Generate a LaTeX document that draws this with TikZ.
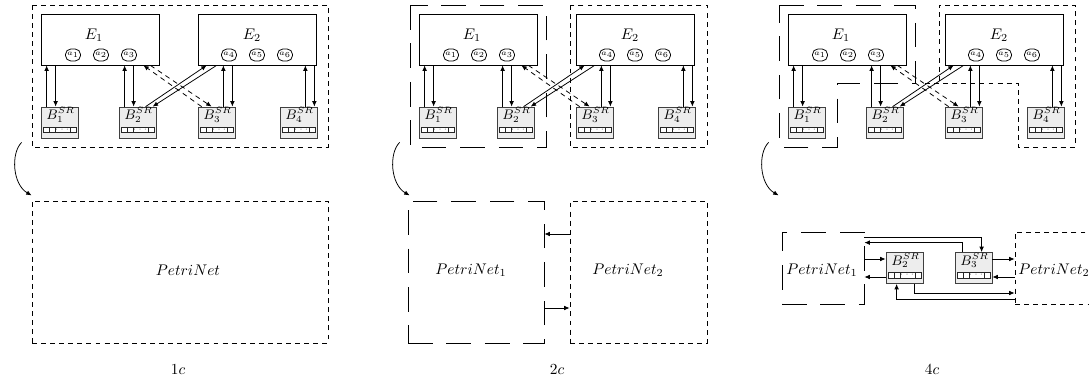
\documentclass[tikz,border=0pt]{standalone}
\usepackage{amsmath}
\usetikzlibrary{positioning,arrows.meta,calc}

\def\pxu{0.65pt}

\tikzset{
  entity/.style={draw, minimum width=118*\pxu, minimum height=51*\pxu, inner sep=0pt},
  action/.style={draw, rounded corners=3.5pt, minimum width=15*\pxu, minimum height=12*\pxu, inner sep=0pt, font=\tiny},
  srbox/.style={draw=black!75, fill=black!7, minimum width=37*\pxu, minimum height=31*\pxu, inner sep=0pt},
  qcell/.style={draw=black!85, fill=white, line width=0.4pt},
  qdots/.style={font=\tiny, inner sep=0pt, text height=1.5pt, text depth=0pt},
  link/.style={-{Latex[length=3.5pt,width=3pt]}},
  shortdash/.style={draw, dash pattern=on 3.2pt off 2.7pt},
  longdash/.style={draw, dash pattern=on 16pt off 9pt},
  netbox/.style={minimum width=#1*\pxu, minimum height=142*\pxu, inner sep=0pt},
}

% buffer with its queue: name, x, y, index
\newcommand{\srbuffer}[4]{%
  \node[srbox] (#1) at (#2,#3) {};
  \node[font=\small, inner sep=0pt] (#1-lbl) at ({#2+1},{#3-7.5}) {$B_{#4}^{SR}$};
  \foreach \qa/\qb in {-16/-10,-10/-4,-4/11,11/17}
    \draw[qcell] ({#2+\qa},{#3+4.5}) rectangle ({#2+\qb},{#3+10});
  \node[qdots] at ({#2+3.5},{#3+7.8}) {$\cdots$};
}

\begin{document}
\begin{tikzpicture}[x=\pxu, y=-\pxu, line width=0.5pt]
\useasboundingbox (0,0) rectangle (1089,383);
\clip (0,0) rectangle (1089,383);

% the three system views
\foreach \o/\p in {0/a, 378/b, 747/c}{
  \node[entity] (e1\p) at ({\o+100},39.5) {};
  \node[entity] (e2\p) at ({\o+257},39.5) {};
  \node (e1\p-lbl) at ({\o+94},35) {$E_1$};
  \node (e2\p-lbl) at ({\o+252},35) {$E_2$};
  \foreach \i/\ax in {1/73,2/101,3/129,4/229,5/257,6/285}
    \node[action] (a\i\p) at ({\o+\ax},55) {$a_\i$};
  \foreach \i/\bx in {1/59.5,2/137.5,3/216.5,4/298.5}{
    \srbuffer{b\i\p}{\o+\bx}{122.5}{\i}
  }
  % buffer <-> entity
  \foreach \b/\e in {b1/e1,b2/e1}{
    \draw[link] ($(\b\p.north west)+(6,0)$) -- ($(\b\p.north west |- \e\p.south)+(6,0)$);
    \draw[link] ($(\b\p.north west |- \e\p.south)+(15,0)$) -- ($(\b\p.north west)+(15,0)$);
  }
  \foreach \b/\e in {b3/e2,b4/e2}{
    \draw[link] ($(\b\p.north east)+(-12,0)$) -- ($(\b\p.north east |- \e\p.south)+(-12,0)$);
    \draw[link] ($(\b\p.north east |- \e\p.south)+(-3,0)$) -- ($(\b\p.north east)+(-3,0)$);
  }
  \draw[link] ($(b2\p.north west)+(27,0)$) -- ($(e2\p.south west)+(9,0)$);
  \draw[link] ($(e2\p.south west)+(19,0)$) -- ($(b2\p.north west)+(34,0)$);
  \draw[link, shortdash] ($(b3\p.north west)+(4,0)$) -- ($(e1\p.south east)+(-16,0)$);
  \draw[link, shortdash] ($(e1\p.south east)+(-9,0)$) -- ($(b3\p.north west)+(14,0)$);
  % down to the net
  \coordinate (s\p) at ($(b1\p.south west)+(-19,4)$);
  \draw[link] (s\p) .. controls ($(s\p)+(-11,11)$) and ($(s\p)+(-9,42)$) .. ($(s\p)+(10,53)$);
}

% partitions
\draw[shortdash] (32,5) rectangle (328,147);
\draw[longdash] (410,5) rectangle (546,147);
\draw[shortdash] (570,5) rectangle (707,147);
\draw[longdash] (779,5) -- (915,5) -- (915,83) -- (837,83) -- (837,147) -- (779,147) -- cycle;
\draw[shortdash] (925,83) -- (1018,83) -- (1018,147) -- (1075,147) -- (1075,5) -- (939,5) -- (939,83);

% 1c
\node[netbox=296, shortdash] (pn) at (180,272) {};
\node (pn-lbl) at (188,270) {$PetriNet$};
\node (cap1) at (178,370) {$1c$};

% 2c
\node[netbox=136, longdash] (pn1b) at (476,272) {};
\node[netbox=137, shortdash] (pn2b) at (638.5,272) {};
\node (pn1b-lbl) at (471,270) {$PetriNet_1$};
\node (pn2b-lbl) at (628,270) {$PetriNet_2$};
\draw[link] ($(pn2b.west)+(0,-38)$) -- ($(pn1b.east)+(0,-38)$);
\draw[link] ($(pn1b.east)+(0,36)$) -- ($(pn2b.west)+(0,36)$);
\node (cap2) at (557,370) {$2c$};

% 4c
\node[longdash, minimum width=82*\pxu, minimum height=72*\pxu] (pn1c) at (823,268) {};
\node[shortdash, minimum width=90*\pxu, minimum height=72*\pxu] (pn2c) at (1060,268) {};
\node (pn1c-lbl) at (822,270) {$PetriNet_1$};
\node[inner sep=1pt] (pn2c-lbl) at (1054,270) {$PetriNet_2$};
\srbuffer{b2x}{904.5}{268}{2}
\srbuffer{b3x}{973.5}{268}{3}
\draw[link] ($(pn1c.north east)+(0,6)$) -| ($(b3x.north west)+(27,0)$);
\draw[link] ($(b3x.north west)+(8,0)$) |- ($(pn1c.north east)+(0,11)$);
\draw[link] ($(pn1c.east |- b2x.west)+(0,-9)$) -- ($(b2x.west)+(0,-9)$);
\draw[link] ($(b2x.west)+(0,9)$) -- ($(pn1c.east |- b2x.west)+(0,9)$);
\draw[link] ($(b3x.east)+(0,-9)$) -- ($(pn2c.west |- b3x.east)+(0,-9)$);
\draw[link] ($(pn2c.west |- b3x.east)+(0,9)$) -- ($(b3x.east)+(0,9)$);
\draw[link] ($(b2x.south west)+(29,0)$) |- ($(pn2c.west)+(0,25)$);
\draw[link] ($(pn2c.west)+(0,31)$) -| ($(b2x.south west)+(11,0)$);
\node (cap4) at (932,370) {$4c$};

\end{tikzpicture}
\end{document}
